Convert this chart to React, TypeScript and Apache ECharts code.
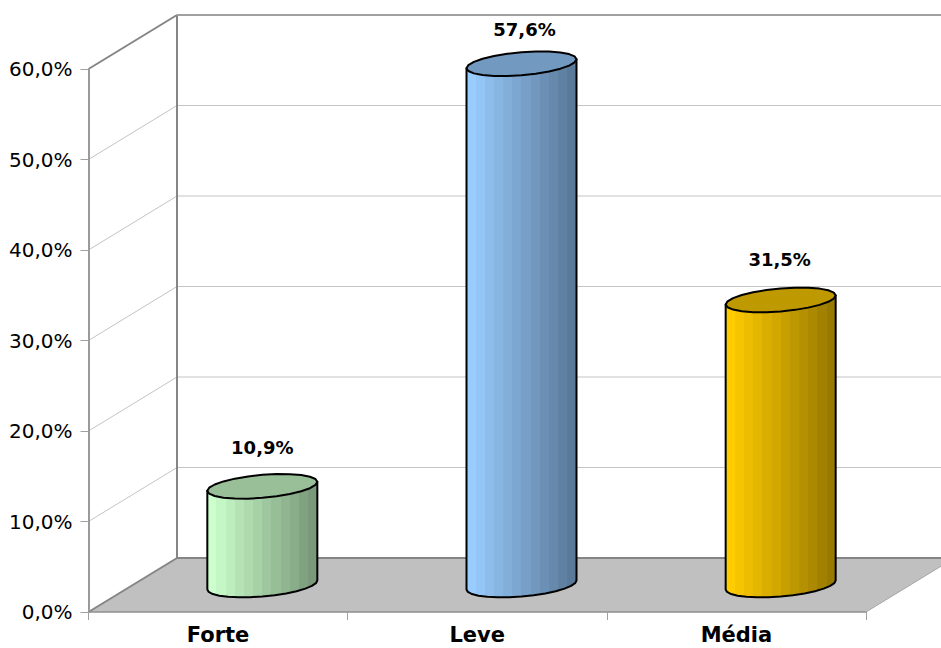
import React, { useEffect, useRef } from "react";
import * as echarts from "echarts";

const categories = ["Forte", "Leve", "Média"];
const seriesValues = [10.9, 57.6, 31.5];
const valueLabels = ["10,9%", "57,6%", "31,5%"];
const yTicks = [0, 10, 20, 30, 40, 50, 60];
const yMax = 60;

const leftColors = ["#CCFFCC", "#99CCFF", "#FFCC00"];
const rightColors = ["#7A997A", "#5B7A99", "#997A00"];
const topColors = ["#99BF99", "#7299BF", "#BF9900"];
const labelOffsets = [[0, -39], [3, -34], [-1, -40]];

const DEPTH_X = 88.5;
const DEPTH_Y = -54;
const BANDS = 12;
const HALF_W = 55;
const HALF_H = 11.5;
const TILT = 4.5;

function hexToRgb(h: string) {
  return [1, 3, 5].map((i) => parseInt(h.slice(i, i + 2), 16));
}

function bandedFill(from: string, to: string) {
  const a = hexToRgb(from);
  const b = hexToRgb(to);
  const stops: { offset: number; color: string }[] = [];
  for (let i = 0; i < BANDS; i++) {
    const t = i / (BANDS - 1);
    const c = a.map((v, k) => Math.round(v + (b[k] - v) * t));
    const color = `rgb(${c[0]},${c[1]},${c[2]})`;
    stops.push({ offset: i / BANDS, color });
    stops.push({ offset: (i + 1) / BANDS, color });
  }
  return new echarts.graphic.LinearGradient(0, 0, 1, 0, stops);
}

function rim(cx: number, cy: number, from: number, to: number, steps: number) {
  const pts: number[][] = [];
  for (let i = 0; i <= steps; i++) {
    const t = from + ((to - from) * i) / steps;
    pts.push([
      cx + HALF_W * Math.cos(t),
      cy + HALF_H * Math.sin(t) - TILT * Math.cos(t),
    ]);
  }
  return pts;
}

export default function App() {
  const ref = useRef<HTMLDivElement>(null);

  useEffect(() => {
    const chart = echarts.init(ref.current!, null, { renderer: "svg" });

    const gridItem = (params: any, api: any) => {
      const cs = params.coordSys;
      const y = api.coord([0, api.value(1)])[1];
      const x0 = cs.x;
      const x1 = cs.x + DEPTH_X;
      const y1 = y + DEPTH_Y;
      if (api.value(1) === 0 || api.value(1) === yMax) return { type: "group", children: [] };
      const style = { stroke: "#C4C4C4", lineWidth: 1, fill: "none" };
      return {
        type: "group",
        children: [
          { type: "line", shape: { x1: x0, y1: y, x2: x1, y2: y1 }, style },
          { type: "line", shape: { x1, y1, x2: cs.x + cs.width + DEPTH_X, y2: y1 }, style },
        ],
      };
    };

    const frameItem = (params: any, api: any) => {
      const cs = params.coordSys;
      const yb = api.coord([0, 0])[1];
      const yt = api.coord([0, yMax])[1];
      const xl = cs.x;
      const xr = cs.x + cs.width;
      const dark = { stroke: "#858585", lineWidth: 2, fill: "none" };
      return {
        type: "group",
        children: [
          {
            type: "polygon",
            shape: {
              points: [
                [xl, yb],
                [xl + DEPTH_X, yb + DEPTH_Y],
                [xr + DEPTH_X, yb + DEPTH_Y],
                [xr, yb],
              ],
            },
            style: { fill: "#C0C0C0", stroke: "none" },
          },
          { type: "line", shape: { x1: xr, y1: yb, x2: xr + DEPTH_X, y2: yb + DEPTH_Y }, style: { stroke: "#A6A6A6", lineWidth: 1, fill: "none" } },
          { type: "line", shape: { x1: xl, y1: yb, x2: xl + DEPTH_X, y2: yb + DEPTH_Y }, style: dark },
          { type: "line", shape: { x1: xl + DEPTH_X, y1: yb + DEPTH_Y, x2: xr + DEPTH_X, y2: yb + DEPTH_Y }, style: dark },
          { type: "line", shape: { x1: xl + DEPTH_X, y1: yb + DEPTH_Y, x2: xl + DEPTH_X, y2: yt + DEPTH_Y }, style: dark },
          { type: "line", shape: { x1: xl, y1: yt, x2: xl + DEPTH_X, y2: yt + DEPTH_Y }, style: dark },
          { type: "line", shape: { x1: xl + DEPTH_X, y1: yt + DEPTH_Y, x2: xr + DEPTH_X, y2: yt + DEPTH_Y }, style: { stroke: "#A0A0A0", lineWidth: 2, fill: "none" } },
        ],
      };
    };

    const cylinderItem = (params: any, api: any) => {
      const i = params.dataIndex;
      const base = api.coord([i, 0]);
      const top = api.coord([i, api.value(1)]);
      const cx = base[0] + DEPTH_X / 2;
      const by = base[1] + DEPTH_Y / 2;
      const ty = top[1] + DEPTH_Y / 2;
      const outline = { stroke: "#000000", lineWidth: 2, lineJoin: "round" };
      const body = [
        ...rim(cx, ty, Math.PI, Math.PI, 1),
        ...rim(cx, by, Math.PI, 0, 14),
        ...rim(cx, ty, 0, 0, 1),
      ];
      const off = labelOffsets[i];
      return {
        type: "group",
        children: [
          {
            type: "polygon",
            shape: { points: body },
            style: { ...outline, fill: bandedFill(leftColors[i], rightColors[i]) },
          },
          {
            type: "polygon",
            shape: { points: rim(cx, ty, 0, Math.PI * 2, 24) },
            style: { ...outline, fill: topColors[i] },
          },
          {
            type: "text",
            style: {
              text: valueLabels[i],
              x: cx + off[0],
              y: ty + off[1],
              align: "center",
              verticalAlign: "middle",
              fill: "#000000",
              font: 'bold 18px "DejaVu Sans"',
            },
          },
        ],
      };
    };

    chart.setOption({
      animation: false,
      backgroundColor: "#FFFFFF",
      grid: { left: 88.5, right: 75, top: 69, bottom: 36, outerBoundsMode: "none" },
      xAxis: {
        type: "category",
        data: categories,
        z: 10,
        axisLine: { lineStyle: { color: "#8E8E8E", width: 1.5 } },
        axisTick: { show: true, alignWithLabel: false, length: 8, lineStyle: { color: "#A0A0A0", width: 1 } },
        axisLabel: {
          color: "#000000",
          fontFamily: "DejaVu Sans",
          fontWeight: "bold",
          fontSize: 21,
          lineHeight: 18,
          margin: 14,
        },
        splitLine: { show: false },
      },
      yAxis: {
        type: "value",
        min: 0,
        max: yMax,
        interval: 10,
        z: 10,
        axisLine: { show: true, lineStyle: { color: "#9A9A9A", width: 2 } },
        axisTick: { show: true, length: 8, lineStyle: { color: "#A0A0A0", width: 1 } },
        axisLabel: {
          color: "#000000",
          fontFamily: "DejaVu Sans",
          fontSize: 20,
          margin: 16,
          formatter: (v: number) => `${v.toFixed(1).replace(".", ",")}%`,
        },
        splitLine: { show: false },
      },
      series: [
        {
          type: "custom",
          name: "grid",
          silent: true,
          z: 1,
          renderItem: gridItem,
          data: yTicks.map((v) => [0, v]),
        },
        {
          type: "custom",
          name: "frame",
          silent: true,
          z: 2,
          renderItem: frameItem,
          data: [[0, 0]],
        },
        {
          type: "custom",
          name: "cylinders",
          silent: true,
          z: 20,
          renderItem: cylinderItem,
          data: seriesValues.map((v, i) => [i, v]),
        },
      ],
    });

    return () => chart.dispose();
  }, []);

  return (
    <div
      ref={ref}
      style={{ position: "fixed", left: 0, top: 0, width: 941, height: 648 }}
    />
  );
}
